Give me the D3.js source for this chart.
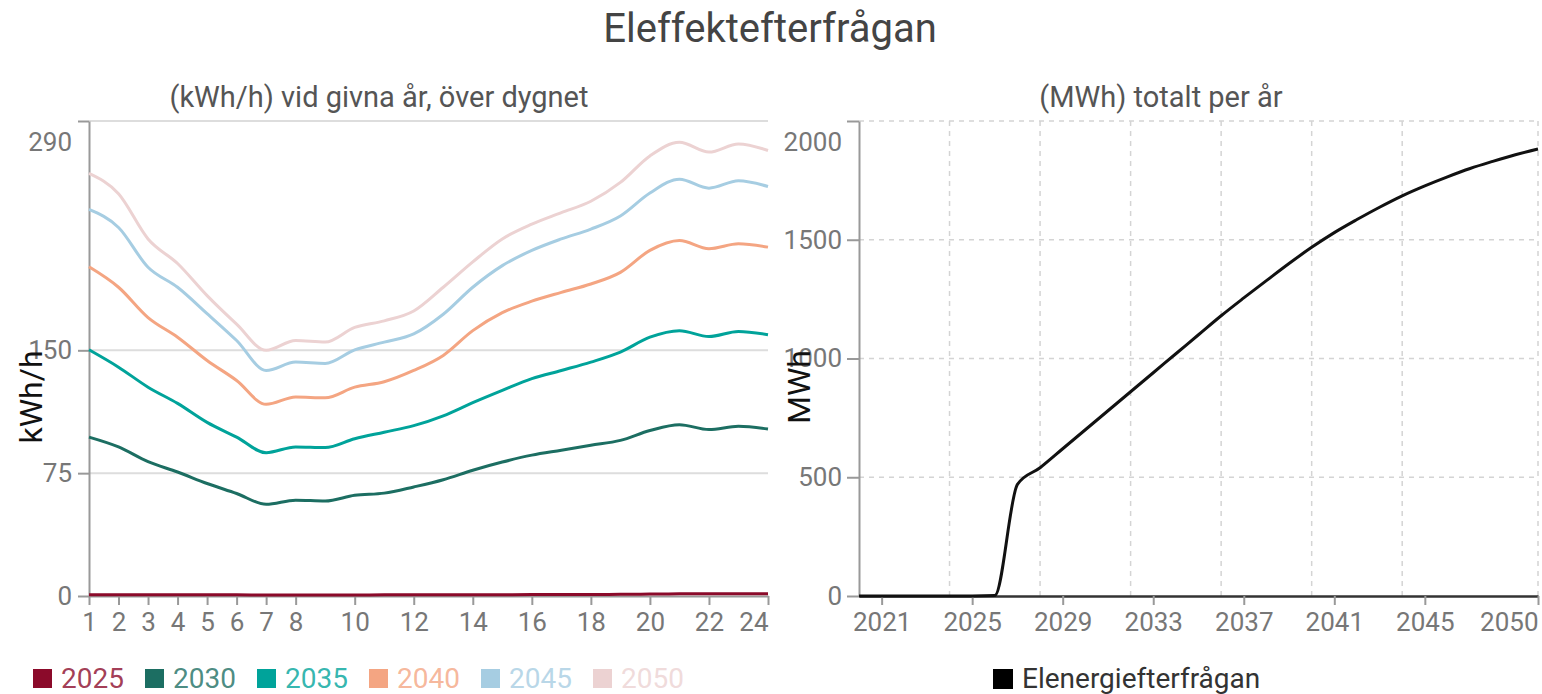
<!DOCTYPE html>
<html>
<head>
<meta charset="utf-8">
<script src="https://cdn.jsdelivr.net/npm/d3@7"></script>
<style>
  body { margin: 0; background: #fff; }
  text { font-family: Roboto, "Noto Sans", sans-serif; }
</style>
</head>
<body>
<div id="chart"></div>
<script>
// hours of the day (left chart)
var hours = [1, 2, 3, 4, 5, 6, 7, 8, 9, 10, 11, 12, 13, 14, 15, 16, 17, 18, 19, 20, 21, 22, 23, 24];

// kWh/h per hour, one array per year
var v2025 = [0.8, 0.8, 0.8, 0.8, 0.7, 0.7, 0.6, 0.6, 0.6, 0.6, 0.7, 0.7, 0.7, 0.8, 0.8, 0.9, 0.9, 0.9, 1.0, 1.2, 1.3, 1.3, 1.3, 1.3];
var v2030 = [97, 91, 82, 75.7, 68.7, 62.6, 56, 58.5, 58, 61.5, 62.8, 66.6, 71, 76.8, 81.8, 86, 89, 92, 95, 101, 104.6, 101.6, 103.6, 102];
var v2035 = [150.3, 139.7, 127.5, 117.6, 106, 97, 87.5, 91, 90.6, 96, 100, 104, 110, 118, 125.5, 132.7, 137.7, 142.8, 148.9, 158, 162, 158.4, 161.5, 159.5];
var v2040 = [201, 188.5, 170, 158, 143.8, 131.6, 117, 121.5, 121, 127.5, 130.8, 137.7, 146.9, 162, 173, 180, 185.4, 190.5, 197.6, 211, 217, 212, 215, 213];
var v2045 = [236, 225, 200.7, 188.5, 172.4, 156, 137.7, 142.8, 142, 150.3, 155, 160, 172, 188.5, 201.7, 211, 218, 224, 232, 246, 254.5, 249, 253.5, 250];
var v2050 = [258, 245.6, 218, 203, 183.4, 166, 150, 156, 155, 164, 168, 174, 188.5, 204, 218, 227, 234, 241, 252.5, 268.7, 277, 271, 276, 272];

var seriesYears = ["2025", "2030", "2035", "2040", "2045", "2050"];
var seriesColors = ["#8b0a2a", "#1c6e62", "#00a39a", "#f4a582", "#a6cde2", "#ecd2d2"];
var seriesValues = [v2025, v2030, v2035, v2040, v2045, v2050];

var hourTicks = [1, 2, 3, 4, 5, 6, 7, 8, 10, 12, 14, 16, 18, 20, 22, 24];
var kwhTicks = [0, 75, 150, 290];

// MWh per year (right chart)
var years = [2020, 2021, 2022, 2023, 2024, 2025, 2026, 2027, 2028, 2029, 2030, 2031, 2032, 2033, 2034, 2035,
  2036, 2037, 2038, 2039, 2040, 2041, 2042, 2043, 2044, 2045, 2046, 2047, 2048, 2049, 2050];
var mwh = [0, 0, 0, 0, 0, 0, 2, 470, 540, 620, 700, 780, 860, 940, 1020, 1100,
  1180, 1255, 1328, 1400, 1468, 1530, 1585, 1637, 1685, 1727, 1765, 1800, 1830, 1858, 1882];
var yearTicks = [2021, 2025, 2029, 2033, 2037, 2041, 2045, 2050];
var yearGrid = [2024, 2028, 2032, 2036, 2040, 2044, 2050];
var mwhTicks = [0, 500, 1000, 1500, 2000];

var width = 1542,
    height = 694;

var svg = d3.select("#chart").append("svg")
    .attr("width", width)
    .attr("height", height);

// Titles
svg.append("text")
    .attr("x", 770).attr("y", 42)
    .attr("text-anchor", "middle")
    .attr("font-size", 40)
    .attr("fill", "#444")
    .text("Eleffektefterfrågan");

svg.append("text")
    .attr("x", 379).attr("y", 107)
    .attr("text-anchor", "middle")
    .attr("font-size", 29)
    .attr("fill", "#555")
    .text("(kWh/h) vid givna år, över dygnet");

svg.append("text")
    .attr("x", 1161).attr("y", 107)
    .attr("text-anchor", "middle")
    .attr("font-size", 29)
    .attr("fill", "#555")
    .text("(MWh) totalt per år");

//---------------- left chart ----------------
var x1 = d3.scaleLinear().domain([1, 24]).range([89, 768]);
var y1 = d3.scaleLinear().domain([0, 290]).range([596, 121]);

var left = svg.append("g");

// solid grid lines
left.selectAll("line.grid")
    .data(kwhTicks.slice(1))
    .enter().append("line")
    .attr("class", "grid")
    .attr("x1", x1(1)).attr("x2", x1(24))
    .attr("y1", function(d) { return y1(d); })
    .attr("y2", function(d) { return y1(d); })
    .attr("stroke", "#ddd")
    .attr("stroke-width", 2);

var xAxis1 = left.append("g")
    .attr("transform", "translate(0," + y1(0) + ")")
    .call(d3.axisBottom(x1).tickValues(hourTicks).tickSize(9).tickPadding(8).tickSizeOuter(0));

var yAxis1 = left.append("g")
    .attr("transform", "translate(" + x1(1) + ",0)")
    .call(d3.axisLeft(y1).tickValues(kwhTicks).tickSize(11).tickPadding(6).tickSizeOuter(0));

[xAxis1, yAxis1].forEach(function(a) {
    a.select(".domain").attr("stroke", "#999").attr("stroke-width", 2);
    a.selectAll(".tick line").attr("stroke", "#999").attr("stroke-width", 2);
    a.selectAll(".tick text").attr("fill", "#777").attr("font-size", 26).attr("font-family", "Roboto, sans-serif");
});
// top label sits under its tick, last hour label ends at the edge
yAxis1.selectAll(".tick text").filter(function(d) { return d === 290; }).attr("dy", "1.15em");
xAxis1.selectAll(".tick text").filter(function(d) { return d === 24; }).attr("text-anchor", "end");

var line1 = d3.line()
    .x(function(d, i) { return x1(hours[i]); })
    .y(function(d) { return y1(d); })
    .curve(d3.curveMonotoneX);

left.selectAll("path.series")
    .data(seriesValues)
    .enter().append("path")
    .attr("class", "series")
    .attr("d", line1)
    .attr("fill", "none")
    .attr("stroke", function(d, i) { return seriesColors[i]; })
    .attr("stroke-width", 3);

left.append("text")
    .attr("transform", "translate(42,397) rotate(-90)")
    .attr("text-anchor", "middle")
    .attr("font-size", 32)
    .attr("fill", "#111")
    .text("kWh/h");

// legend
var legend1 = svg.selectAll("g.leg1")
    .data(seriesYears)
    .enter().append("g")
    .attr("class", "leg1")
    .attr("transform", function(d, i) { return "translate(" + (33 + i * 112) + ",669)"; });

legend1.append("rect")
    .attr("width", 19).attr("height", 19)
    .attr("fill", function(d, i) { return seriesColors[i]; });

legend1.append("text")
    .attr("x", 28).attr("y", 19)
    .attr("font-size", 28)
    .attr("fill", function(d, i) { return seriesColors[i]; })
    .attr("fill-opacity", 0.8)
    .text(function(d) { return d; });

//---------------- right chart ----------------
var x2 = d3.scaleLinear().domain([2020, 2050]).range([859, 1538]);
var y2 = d3.scaleLinear().domain([0, 2000]).range([596, 121]);

var right = svg.append("g");

right.selectAll("line.hgrid")
    .data(mwhTicks.slice(1))
    .enter().append("line")
    .attr("class", "hgrid")
    .attr("x1", x2(2020)).attr("x2", x2(2050))
    .attr("y1", function(d) { return y2(d); })
    .attr("y2", function(d) { return y2(d); })
    .attr("stroke", "#d4d4d4")
    .attr("stroke-width", 1.5)
    .attr("stroke-dasharray", "5,5");

right.selectAll("line.vgrid")
    .data(yearGrid)
    .enter().append("line")
    .attr("class", "vgrid")
    .attr("x1", function(d) { return x2(d); })
    .attr("x2", function(d) { return x2(d); })
    .attr("y1", y2(2000)).attr("y2", y2(0))
    .attr("stroke", "#d4d4d4")
    .attr("stroke-width", 1.5)
    .attr("stroke-dasharray", "5,5");

var xAxis2 = right.append("g")
    .attr("transform", "translate(0," + y2(0) + ")")
    .call(d3.axisBottom(x2).tickValues(yearTicks).tickFormat(d3.format("d")).tickSize(9).tickPadding(8).tickSizeOuter(0));

var yAxis2 = right.append("g")
    .attr("transform", "translate(" + x2(2020) + ",0)")
    .call(d3.axisLeft(y2).tickValues(mwhTicks).tickFormat(d3.format("d")).tickSize(12).tickPadding(5).tickSizeOuter(0));

[xAxis2, yAxis2].forEach(function(a) {
    a.select(".domain").attr("stroke", "#999").attr("stroke-width", 2);
    a.selectAll(".tick line").attr("stroke", "#999").attr("stroke-width", 2);
    a.selectAll(".tick text").attr("fill", "#777").attr("font-size", 26).attr("font-family", "Roboto, sans-serif");
});
xAxis2.select(".domain").attr("stroke", "#333").attr("stroke-width", 2.5);
yAxis2.selectAll(".tick text").filter(function(d) { return d === 2000; }).attr("dy", "1.15em");
xAxis2.selectAll(".tick text").filter(function(d) { return d === 2050; }).attr("text-anchor", "end");

var line2 = d3.line()
    .x(function(d, i) { return x2(years[i]); })
    .y(function(d) { return y2(d); })
    .curve(d3.curveMonotoneX);

right.append("path")
    .datum(mwh)
    .attr("d", line2)
    .attr("fill", "none")
    .attr("stroke", "#111")
    .attr("stroke-width", 3);

right.append("text")
    .attr("transform", "translate(810,387) rotate(-90)")
    .attr("text-anchor", "middle")
    .attr("font-size", 32)
    .attr("fill", "#111")
    .text("MWh");

var legend2 = svg.append("g").attr("transform", "translate(993,669)");
legend2.append("rect").attr("width", 20).attr("height", 20).attr("fill", "#000");
legend2.append("text")
    .attr("x", 29).attr("y", 19)
    .attr("font-size", 28)
    .attr("fill", "#333")
    .text("Elenergiefterfrågan");
</script>
</body>
</html>
